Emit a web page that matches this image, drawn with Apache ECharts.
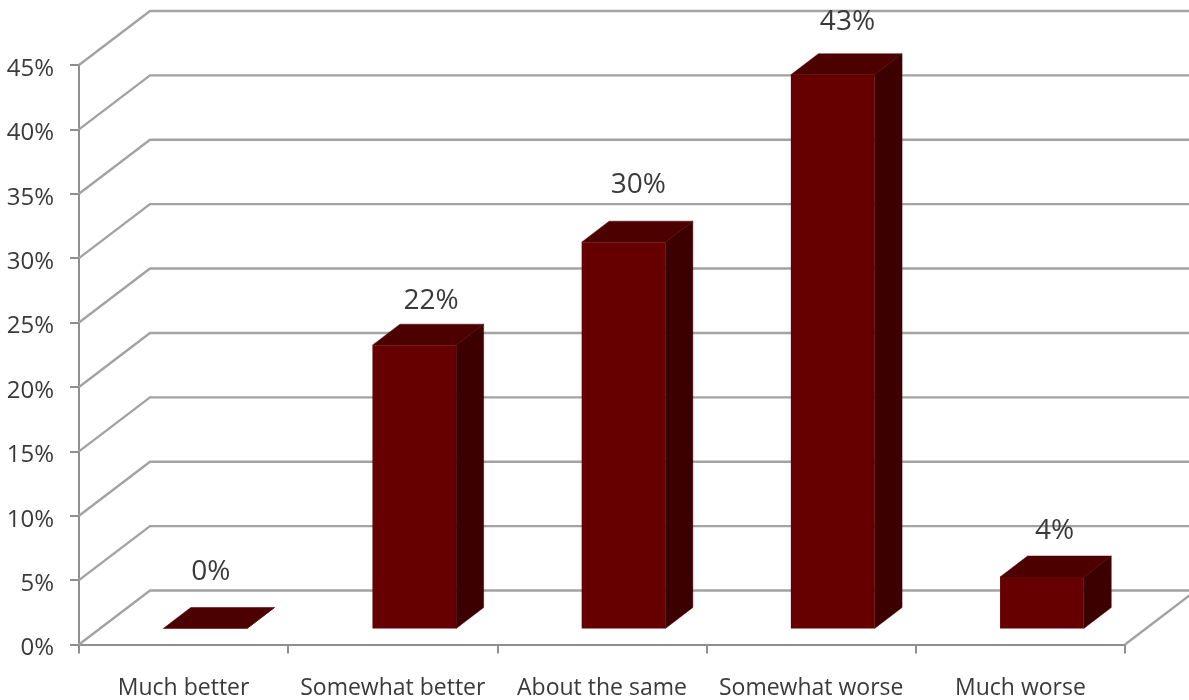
<!DOCTYPE html>
<html>
<head>
<meta charset="utf-8">
<style>html,body{margin:0;padding:0;background:#fff}#c{width:1189px;height:700px}</style>
<script src="https://cdn.jsdelivr.net/npm/echarts@6/dist/echarts.min.js"></script>
</head>
<body>
<div id="c"></div>
<script>
const categories = ['Much better', 'Somewhat better', 'About the same', 'Somewhat worse', 'Much worse'];
const percentValues = [0, 22, 30, 43, 4];
const gridTicks = [0, 5, 10, 15, 20, 25, 30, 35, 40, 45];

const DEPTH = [71, -54], BAR_SHIFT = [21.5, -16], BAR_DEPTH = [27.5, -21];
const labelNudge = [[-8, -35], [3, -23], [1, -36], [1, -32], [-1, -25]];
const FONT = '"Open Sans", sans-serif';
const GRID_COLOR = '#a3a3a3', AXIS_COLOR = '#8f8f8f', TEXT_COLOR = '#3a3a3a';

const chart = echarts.init(document.getElementById('c'), null, {renderer: 'canvas'});

function wallItem(params, api) {
  const cs = params.coordSys;
  const v = api.value(1);
  const y = api.coord([0, v])[1];
  const style = {stroke: GRID_COLOR, lineWidth: 2.4, fill: 'none'};
  const pts = [[cs.x, y], [cs.x + DEPTH[0], y + DEPTH[1]], [cs.x + cs.width + 90, y + DEPTH[1]]];
  const children = [{type: 'polyline', shape: {points: pts}, style}];
  if (v === 0) {
    children.push({type: 'line', shape: {x1: cs.x + cs.width, y1: y, x2: cs.x + cs.width + DEPTH[0], y2: y + DEPTH[1]}, style});
  }
  return {type: 'group', children};
}

function barItem(params, api) {
  const i = api.value(0), v = api.value(1);
  const c = api.coord([i, v]), base = api.coord([i, 0]);
  const w = api.size([1, 0])[0] * 0.4;
  const l = c[0] - w / 2 + BAR_SHIFT[0], r = l + w;
  const t = c[1] + BAR_SHIFT[1], b = base[1] + BAR_SHIFT[1];
  const dx = BAR_DEPTH[0], dy = BAR_DEPTH[1];
  const n = labelNudge[params.dataIndex];
  return {type: 'group', children: [
    {type: 'polygon', shape: {points: [[r, t], [r + dx, t + dy], [r + dx, b + dy], [r, b]]}, style: {fill: '#3d0000', stroke: '#3d0000', lineWidth: 0.5}},
    {type: 'polygon', shape: {points: [[l, t], [l + dx, t + dy], [r + dx, t + dy], [r, t]]}, style: {fill: '#4d0000', stroke: '#4d0000', lineWidth: 0.5}},
    {type: 'rect', shape: {x: l, y: t, width: w, height: b - t}, style: {fill: '#660000'}},
    {type: 'text', style: {text: v + '%', x: (l + r + dx) / 2 + n[0], y: t + dy + n[1], align: 'center', verticalAlign: 'middle', font: '400 28px ' + FONT, fill: TEXT_COLOR}}
  ]};
}

chart.setOption({
  animation: false,
  backgroundColor: '#ffffff',
  grid: {left: 79, right: 64, top: 65, bottom: 55.5, containLabel: false},
  xAxis: {
    type: 'category', data: categories,
    axisLine: {lineStyle: {color: AXIS_COLOR, width: 2}},
    axisTick: {show: true, length: 9, alignWithLabel: false, lineStyle: {color: AXIS_COLOR, width: 2}},
    axisLabel: {interval: 0, margin: 32, fontSize: 23, fontFamily: FONT, color: TEXT_COLOR},
    splitLine: {show: false}
  },
  yAxis: {
    type: 'value', min: 0, max: 45, interval: 5,
    axisLine: {show: true, lineStyle: {color: AXIS_COLOR, width: 2}},
    axisTick: {show: true, length: 9, lineStyle: {color: AXIS_COLOR, width: 2}},
    axisLabel: {formatter: '{value}%', margin: 25, fontSize: 24, fontFamily: FONT, color: TEXT_COLOR, verticalAlign: 'top', lineHeight: 8},
    splitLine: {show: false}
  },
  series: [
    {type: 'custom', z: 1, silent: true, renderItem: wallItem, data: gridTicks.map(v => [0, v])},
    {type: 'custom', z: 3, silent: true, renderItem: barItem, data: percentValues.map((v, i) => [i, v])}
  ]
});
</script>
</body>
</html>
